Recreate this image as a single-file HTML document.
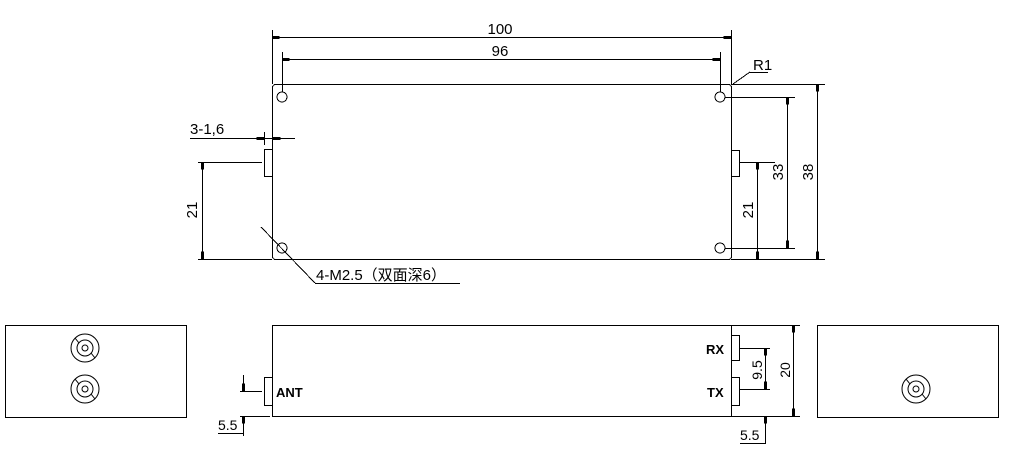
<!DOCTYPE html>
<html><head><meta charset="utf-8"><style>
html,body{margin:0;padding:0;background:#fff;}
svg{display:block;}
text{font-family:"Liberation Sans","Noto Sans CJK SC",sans-serif;fill:#000;}
</style></head><body>
<svg width="1027" height="476" viewBox="0 0 1027 476" xmlns="http://www.w3.org/2000/svg">
<defs>
<g id="coax" fill="none" stroke="#000" stroke-width="1">
<circle r="14"/><circle r="8"/><circle r="3"/>
<line x1="-10" y1="-10" x2="-6" y2="-5"/><line x1="10" y1="10" x2="6" y2="5"/>
</g>
<marker id="a" viewBox="0 0 10 4" refX="10" refY="2" markerWidth="8" markerHeight="3" orient="auto-start-reverse" markerUnits="userSpaceOnUse"><rect x="0" y="0" width="10" height="4" fill="#000"/></marker>
</defs>
<g stroke="#000" stroke-width="1" fill="none" shape-rendering="crispEdges">
<!-- main top -->
<rect x="272.5" y="84.5" width="459" height="175" rx="3"/>
<circle cx="282" cy="97" r="5"/><circle cx="720" cy="97" r="5"/>
<circle cx="282" cy="248" r="5"/><circle cx="720" cy="248" r="5"/>
<rect x="264.5" y="149.5" width="8" height="27"/>
<rect x="731.5" y="150.5" width="8" height="26"/>
<!-- 100 -->
<line x1="272.5" y1="30" x2="272.5" y2="84"/><line x1="731.5" y1="30" x2="731.5" y2="84"/>
<line x1="272" y1="37.5" x2="731" y2="37.5" marker-start="url(#a)" marker-end="url(#a)"/>
<!-- 96 -->
<line x1="282.5" y1="52" x2="282.5" y2="92"/><line x1="720.5" y1="52" x2="720.5" y2="92"/>
<line x1="282" y1="59.5" x2="720" y2="59.5" marker-start="url(#a)" marker-end="url(#a)"/>
<!-- 3-1.6 -->
<line x1="190" y1="138.5" x2="295" y2="138.5"/>
<line x1="264.5" y1="132" x2="264.5" y2="145"/>
<line x1="252" y1="138.5" x2="264" y2="138.5" marker-end="url(#a)"/>
<line x1="285" y1="138.5" x2="273" y2="138.5" marker-end="url(#a)"/>
<!-- 21 left -->
<line x1="198" y1="162.5" x2="262" y2="162.5"/>
<line x1="198" y1="259.5" x2="272" y2="259.5"/>
<line x1="202.5" y1="162" x2="202.5" y2="259" marker-start="url(#a)" marker-end="url(#a)"/>
<!-- leader -->
<line x1="261" y1="227" x2="315" y2="283"/>
<line x1="315" y1="283.5" x2="460" y2="283.5"/>
<!-- R1 -->
<line x1="750" y1="72.5" x2="768" y2="72.5"/>
<line x1="750" y1="72" x2="733" y2="84"/>
<!-- right dims -->
<line x1="731" y1="84.5" x2="825" y2="84.5"/>
<line x1="725" y1="97.5" x2="795" y2="97.5"/>
<line x1="740" y1="162.5" x2="775" y2="162.5"/>
<line x1="731" y1="259.5" x2="825" y2="259.5"/>
<line x1="725" y1="248.5" x2="795" y2="248.5"/>
<line x1="757.5" y1="162" x2="757.5" y2="259" marker-start="url(#a)" marker-end="url(#a)"/>
<line x1="787.5" y1="97" x2="787.5" y2="248" marker-start="url(#a)" marker-end="url(#a)"/>
<line x1="817.5" y1="84" x2="817.5" y2="259" marker-start="url(#a)" marker-end="url(#a)"/>
<!-- bottom row -->
<rect x="5.5" y="325.5" width="181" height="92"/>
<rect x="272.5" y="325.5" width="459" height="91"/>
<rect x="817.5" y="325.5" width="181" height="92"/>
<rect x="264.5" y="377.5" width="8" height="28"/>
<rect x="731.5" y="335.5" width="8" height="25"/>
<rect x="731.5" y="377.5" width="8" height="28"/>
<!-- ANT dim -->
<line x1="240" y1="391.5" x2="262" y2="391.5"/>
<line x1="240" y1="416.5" x2="270" y2="416.5"/>
<line x1="243.5" y1="375" x2="243.5" y2="391" marker-end="url(#a)"/>
<line x1="243.5" y1="436" x2="243.5" y2="416" marker-end="url(#a)"/>
<line x1="218" y1="433.5" x2="243" y2="433.5"/>
<!-- RX/TX dims -->
<line x1="740" y1="348.5" x2="770" y2="348.5"/>
<line x1="740" y1="389.5" x2="770" y2="389.5"/>
<line x1="765.5" y1="348" x2="765.5" y2="389" marker-start="url(#a)" marker-end="url(#a)"/>
<line x1="765.5" y1="444" x2="765.5" y2="416" marker-end="url(#a)"/>
<line x1="740" y1="443.5" x2="765" y2="443.5"/>
<line x1="731" y1="325.5" x2="800" y2="325.5"/>
<line x1="731" y1="416.5" x2="800" y2="416.5"/>
<line x1="793.5" y1="325" x2="793.5" y2="416" marker-start="url(#a)" marker-end="url(#a)"/>
</g>
<use href="#coax" x="85" y="348"/>
<use href="#coax" x="85" y="389"/>
<use href="#coax" x="916" y="389"/>
<g font-size="15">
<text x="500" y="34" text-anchor="middle">100</text>
<text x="500" y="56" text-anchor="middle">96</text>
<text x="190" y="134">3-1,6</text>
<text x="753" y="70">R1</text>
<text x="316" y="280">4-M2.5（双面深6）</text>
<text transform="translate(197,210) rotate(-90)" text-anchor="middle">21</text>
<text transform="translate(753,210) rotate(-90)" text-anchor="middle">21</text>
<text transform="translate(783,172) rotate(-90)" text-anchor="middle">33</text>
<text transform="translate(813,172) rotate(-90)" text-anchor="middle">38</text>
<text transform="translate(762,370) rotate(-90)" text-anchor="middle" font-size="14">9.5</text>
<text transform="translate(790,370) rotate(-90)" text-anchor="middle" font-size="14">20</text>
<text x="218" y="430" font-size="14">5.5</text>
<text x="740" y="440" font-size="14">5.5</text>
</g>
<g font-size="13" font-weight="bold">
<text x="276" y="397">ANT</text>
<text x="706" y="354">RX</text>
<text x="707" y="397">TX</text>
</g>
</svg>
</body></html>
